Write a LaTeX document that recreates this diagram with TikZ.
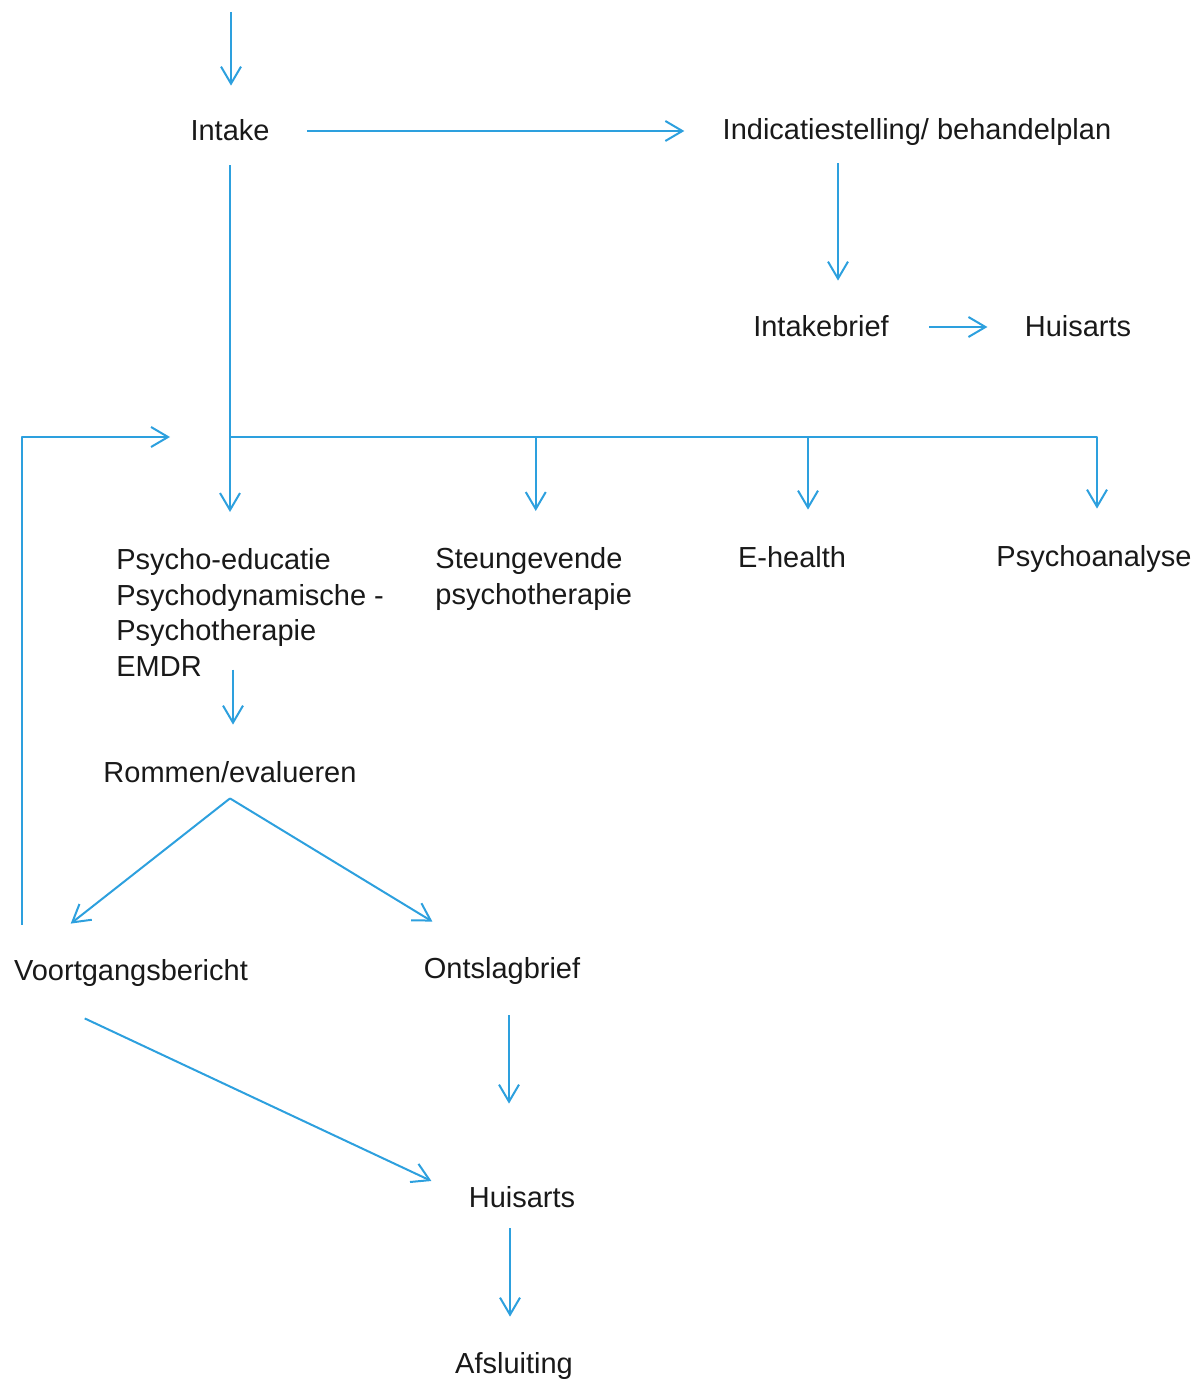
\documentclass[tikz,border=0pt]{standalone}
\usepackage{fontspec}
\setmainfont{Liberation Sans}
\usetikzlibrary{arrows.meta}
\definecolor{flow}{RGB}{45,160,222}
\definecolor{ink}{RGB}{25,25,25}
\begin{document}
\begin{tikzpicture}[x=0.5pt,y=-0.5pt,
  lbl/.style={inner sep=0pt, text height=10pt, text depth=0pt, text=ink,
    font=\fontsize{14.5}{17.8}\selectfont},
  blk/.style={inner sep=0pt, align=left, text=ink,
    font=\fontsize{14.5}{17.8}\selectfont, anchor=north west},
  wire/.style={draw=flow, line width=1pt, line join=round},
  arr/.style={wire, -{Straight Barb[length=8.5pt,width=10pt,line width=1pt]}}]
\useasboundingbox (0,0) rectangle (1197,1379);

% labels
\node[lbl] (intake) at (230,131) {Intake};
\node[lbl] (indic) at (917,130) {Indicatiestelling/ behandelplan};
\node[lbl] (brief) at (821,327) {Intakebrief};
\node[lbl] (ha1) at (1078,327) {Huisarts};
\node[blk] (psy) at (116,548) {Psycho-educatie\\Psychodynamische -\\Psychotherapie\\EMDR};
\node[blk] (steun) at (435,547) {Steungevende\\psychotherapie};
\node[lbl] (eh) at (792,557) {E-health};
\node[lbl] (pa) at (1094,556) {Psychoanalyse};
\node[lbl] (rom) at (230,772) {Rommen/evalueren};
\node[lbl] (voort) at (131,970) {Voortgangsbericht};
\node[lbl] (ontslag) at (502,968) {Ontslagbrief};
\node[lbl] (ha2) at (522,1197) {Huisarts};
\node[lbl] (afs) at (514,1363) {Afsluiting};

% incoming arrow
\coordinate (entry) at (231,12);
\draw[arr, shorten >=17.5pt] (entry) -- (entry |- intake.north);

% intake to indication
\draw[arr, shorten <=18.5pt, shorten >=19pt] (intake.east) -- (intake.east -| indic.west);

% indication to intake letter
\coordinate (bt) at ([xshift=8.5pt]brief.north);
\draw[arr, shorten <=11.5pt, shorten >=18pt] (bt |- indic.south) -- (bt);

% intake letter to GP
\draw[arr, shorten <=20pt, shorten >=18.5pt] (brief.east) -- (ha1.west);

% main trunk and branches
\coordinate (loopend) at (170,437);
\coordinate (split) at (intake.south |- loopend);
\coordinate (pt) at ([xshift=1.5pt]pa.north);
\coordinate (et) at ([xshift=8pt]eh.north);
\coordinate (st) at ([xshift=1pt]steun.north);
\draw[arr, shorten <=12pt, shorten >=18pt] (intake.south) -- (intake.south |- psy.north);
\draw[arr, shorten >=18.5pt] (split) -| (pt);
\draw[arr, shorten >=18.5pt] (et |- split) -- (et);
\draw[arr, shorten >=18pt] (st |- split) -- (st);

% treatment to evaluation
\coordinate (rt) at ([xshift=1.5pt]rom.north);
\draw[arr, shorten <=-3.5pt, shorten >=18.5pt] (rt |- psy.south) -- (rt);

% evaluation fork
\coordinate (fork) at ([yshift=-8pt]rom.south);
\draw[arr] (fork) -- ([xshift=28.5pt,yshift=18pt]voort.north west);
\draw[arr] (fork) -- ([xshift=4.5pt,yshift=18pt]ontslag.north west);

% progress report loops back to treatment
\draw[arr, shorten <=17.5pt] ([xshift=4pt]voort.north west) |- (loopend);

% reports to GP
\draw[arr] ([xshift=35.5pt,yshift=-19pt]voort.south west) -- ([xshift=-18.5pt,yshift=8pt]ha2.west);
\coordinate (oc) at ([xshift=3.5pt]ontslag.south);
\draw[arr, shorten <=18.5pt, shorten >=41.5pt] (oc) -- (oc |- ha2.north);

% GP to closure
\coordinate (at) at ([xshift=-2pt]afs.north);
\draw[arr, shorten <=10.5pt, shorten >=18pt] (at |- ha2.south) -- (at);
\end{tikzpicture}
\end{document}
